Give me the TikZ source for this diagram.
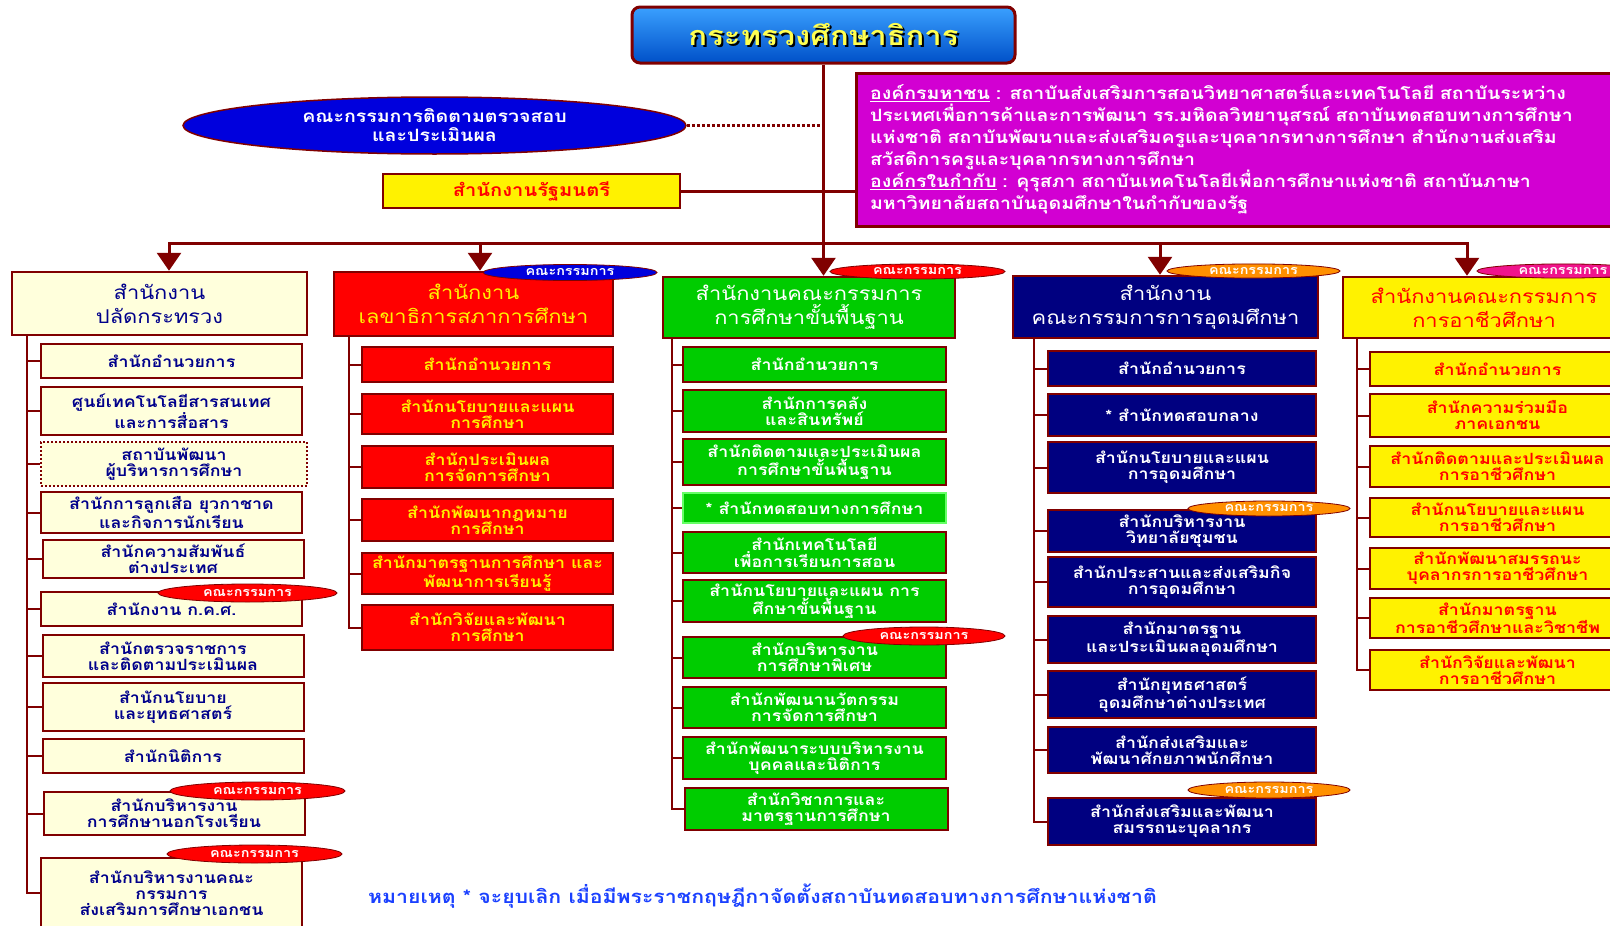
\documentclass[tikz,border=0pt]{standalone}
\usepackage{fontspec}
\setmainfont[Script=Thai, FakeStretch=1.15]{Loma}
\usetikzlibrary{arrows.meta,shapes.geometric}

\definecolor{linkred}{HTML}{800000}
\definecolor{paleyellow}{HTML}{FFFFDC}
\definecolor{opsblue}{HTML}{00008B}
\definecolor{obecgreen}{HTML}{00CC00}
\definecolor{ohecnavy}{HTML}{000080}
\definecolor{agencymag}{HTML}{D200D2}
\definecolor{monitorblue}{HTML}{0000DD}
\definecolor{titletop}{HTML}{3AA0FF}
\definecolor{titlebottom}{HTML}{0050C8}
\definecolor{titletext}{HTML}{FFFF50}
\definecolor{noteblue}{HTML}{1A40FF}
\definecolor{boardorange}{HTML}{FF9000}
\definecolor{boardpink}{HTML}{F0148C}

\begin{document}
\begin{tikzpicture}[x=1pt, y=-1pt,
    link/.style = {linkred, line width = 3pt},
    branch/.style = {linkred, line width = 2pt},
    down/.style = {link, -{Triangle[length = 18pt, width = 24pt]}},
    unit/.style = {draw = linkred, line width = 2pt, inner sep = 1pt, align = center,
                   font = \fontsize{15.5}{16}\selectfont\bfseries},
    head/.style = {unit, line width = 2.5pt, font = \fontsize{19}{24}\selectfont},
    opsbox/.style = {unit, fill = paleyellow, text = opsblue, minimum width = 261pt},
    oecbox/.style = {unit, fill = red, text = yellow, minimum width = 251pt},
    obecbox/.style = {unit, fill = obecgreen, text = white, minimum width = 263pt},
    ohecbox/.style = {unit, fill = ohecnavy, text = white, minimum width = 268pt},
    ovecbox/.style = {unit, fill = yellow, text = red, minimum width = 255pt},
    board/.style = {ellipse, draw = linkred, line width = 0.8pt, inner sep = 0pt,
                    text height = 8pt, text depth = 2pt, text = white,
                    font = \fontsize{12.5}{12}\selectfont\bfseries}]

  \useasboundingbox (0,0) rectangle (1610,926);

  % ministry and the units attached to it
  \node[draw = linkred, line width = 3pt, rounded corners = 8pt,
        top color = titletop, bottom color = titlebottom, text = titletext,
        minimum width = 383pt, minimum height = 56pt,
        font = \fontsize{27}{27}\selectfont\bfseries] (moe) at (823.5,35)
        {\makebox[0pt][l]{\raisebox{-2pt}{\hspace{2pt}\textcolor{black}{กระทรวงศึกษาธิการ}}}กระทรวงศึกษาธิการ};
  \node[ellipse, draw = linkred, line width = 1.5pt, fill = monitorblue, text = white,
        minimum width = 503pt, minimum height = 57pt, inner sep = 0pt, align = center,
        font = \fontsize{17}{19}\selectfont\bfseries] (monitor) at (434.5,125.5)
        {คณะกรรมการติดตามตรวจสอบ\\และประเมินผล};
  \node[unit, fill = yellow, text = red, minimum width = 297pt, minimum height = 34pt,
        font = \fontsize{17.5}{17}\selectfont\bfseries] (minister) at (531.5,191) {สำนักงานรัฐมนตรี};
  \node[draw = linkred, line width = 3pt, fill = agencymag, text = white,
        minimum width = 769pt, minimum height = 153pt, inner xsep = 14pt,
        text width = 741pt, align = left,
        font = \fontsize{17}{22}\selectfont\bfseries] (agencies) at (1240.5,149.5)
        {\underline{องค์กรมหาชน} : สถาบันส่งเสริมการสอนวิทยาศาสตร์และเทคโนโลยี สถาบันระหว่าง\\
         ประเทศเพื่อการค้าและการพัฒนา รร.มหิดลวิทยานุสรณ์ สถาบันทดสอบทางการศึกษา\\
         แห่งชาติ สถาบันพัฒนาและส่งเสริมครูและบุคลากรทางการศึกษา สำนักงานส่งเสริม\\
         สวัสดิการครูและบุคลากรทางการศึกษา\\
         \underline{องค์กรในกำกับ} : คุรุสภา สถาบันเทคโนโลยีเพื่อการศึกษาแห่งชาติ สถาบันภาษา\\
         มหาวิทยาลัยสถาบันอุดมศึกษาในกำกับของรัฐ};

  \coordinate (bus1) at (169,243);
  \coordinate (bus2) at (480,243);
  \coordinate (bus3) at (823.5,243);
  \coordinate (bus4) at (1160,243);
  \coordinate (bus5) at (1467,243);
  \draw[link] (moe.south) -- (bus3);
  \draw[link, dotted] (monitor.east) -- (monitor.east -| moe.south);
  \draw[link] (minister.east) -- (agencies.west |- minister.east);
  \draw[link, line cap = rect] (bus1) -- (bus5);

  % the five offices
  \node[head, fill = paleyellow, text = opsblue, minimum width = 295pt, minimum height = 63pt]
    (ops) at (159.5,303.5) {สำนักงาน\\ปลัดกระทรวง};
  \node[head, fill = red, text = yellow, minimum width = 279pt, minimum height = 64pt]
    (oec) at (473.5,304) {สำนักงาน\\เลขาธิการสภาการศึกษา};
  \node[head, fill = obecgreen, text = white, minimum width = 292pt, minimum height = 61pt]
    (obec) at (809,307.5) {สำนักงานคณะกรรมการ\\การศึกษาขั้นพื้นฐาน};
  \node[head, fill = ohecnavy, text = white, minimum width = 305pt, minimum height = 62pt]
    (ohec) at (1165.5,307) {สำนักงาน\\คณะกรรมการการอุดมศึกษา};
  \node[head, fill = yellow, text = red, minimum width = 282pt, minimum height = 61pt]
    (ovec) at (1484,307.5) {สำนักงานคณะกรรมการ\\การอาชีวศึกษา};

  \draw[down] (bus1) -- (bus1 |- ops.north);
  \draw[down] (bus2) -- (bus2 |- oec.north);
  \draw[down] (bus3) -- (bus3 |- obec.north);
  \draw[down] (bus4) -- (bus4 |- ohec.north);
  \draw[down] (bus5) -- (bus5 |- ovec.north);

  % office of the permanent secretary
  \node[opsbox, minimum height = 34pt] (ops1) at (171.5,361) {สำนักอำนวยการ};
  \node[opsbox, minimum height = 48pt] (ops2) at (171.5,411) {ศูนย์เทคโนโลยีสารสนเทศ\\และการสื่อสาร};
  \node[opsbox, dotted, minimum width = 266pt, minimum height = 44pt] (ops3) at (174,464) {สถาบันพัฒนา\\ผู้บริหารการศึกษา};
  \node[opsbox, minimum height = 41pt] (ops4) at (171.5,512.5) {สำนักการลูกเสือ ยุวกาชาด\\และกิจการนักเรียน};
  \node[opsbox, minimum height = 38pt] (ops5) at (173,559) {สำนักความสัมพันธ์\\ต่างประเทศ};
  \node[opsbox, minimum height = 34pt] (ops6) at (171.5,609) {สำนักงาน ก.ค.ศ.};
  \node[opsbox, minimum height = 42pt] (ops7) at (173,656) {สำนักตรวจราชการ\\และติดตามประเมินผล};
  \node[opsbox, minimum height = 48pt] (ops8) at (173,707) {สำนักนโยบาย\\และยุทธศาสตร์};
  \node[opsbox, minimum height = 34pt] (ops9) at (173,756) {สำนักนิติการ};
  \node[opsbox, minimum height = 43pt] (ops10) at (174,813.5) {สำนักบริหารงาน\\การศึกษานอกโรงเรียน};
  \node[opsbox, minimum height = 70pt] (ops11) at (171.5,893) {สำนักบริหารงานคณะ\\กรรมการ\\ส่งเสริมการศึกษาเอกชน};
  \coordinate (opstree) at (27,335);
  \draw[branch] (opstree) |- (ops11.west)
    (opstree |- ops1.west) -- (ops1.west) (opstree |- ops2.west) -- (ops2.west)
    (opstree |- ops3.west) -- (ops3.west) (opstree |- ops4.west) -- (ops4.west)
    (opstree |- ops5.west) -- (ops5.west) (opstree |- ops6.west) -- (ops6.west)
    (opstree |- ops7.west) -- (ops7.west) (opstree |- ops8.west) -- (ops8.west)
    (opstree |- ops9.west) -- (ops9.west) (opstree |- ops10.west) -- (ops10.west);

  % office of the education council
  \node[oecbox, minimum height = 35pt] (oec1) at (487.5,364.5) {สำนักอำนวยการ};
  \node[oecbox, minimum height = 40pt] (oec2) at (487.5,414) {สำนักนโยบายและแผน\\การศึกษา};
  \node[oecbox, minimum height = 42pt] (oec3) at (487.5,467) {สำนักประเมินผล\\การจัดการศึกษา};
  \node[oecbox, minimum height = 42pt] (oec4) at (487.5,520) {สำนักพัฒนากฎหมาย\\การศึกษา};
  \node[oecbox, minimum height = 41pt] (oec5) at (487.5,573.5) {สำนักมาตรฐานการศึกษา และ\\พัฒนาการเรียนรู้};
  \node[oecbox, minimum height = 45pt] (oec6) at (487.5,627.5) {สำนักวิจัยและพัฒนา\\การศึกษา};
  \coordinate (oectree) at (349,336);
  \draw[branch] (oectree) |- (oec6.west)
    (oectree |- oec1.west) -- (oec1.west) (oectree |- oec2.west) -- (oec2.west)
    (oectree |- oec3.west) -- (oec3.west) (oectree |- oec4.west) -- (oec4.west)
    (oectree |- oec5.west) -- (oec5.west);

  % office of the basic education commission
  \node[obecbox, minimum height = 35pt] (obec1) at (814.5,364.5) {สำนักอำนวยการ};
  \node[obecbox, minimum height = 42pt] (obec2) at (814.5,411) {สำนักการคลัง\\และสินทรัพย์};
  \node[obecbox, minimum height = 46pt] (obec3) at (814.5,462) {สำนักติดตามและประเมินผล\\การศึกษาขั้นพื้นฐาน};
  \node[obecbox, draw = green!60!white, minimum height = 30pt] (obec4) at (814.5,508) {* สำนักทดสอบทางการศึกษา};
  \node[obecbox, minimum height = 41pt] (obec5) at (814.5,552.5) {สำนักเทคโนโลยี\\เพื่อการเรียนการสอน};
  \node[obecbox, minimum height = 42pt] (obec6) at (814.5,601) {สำนักนโยบายและแผน การ\\ศึกษาขั้นพื้นฐาน};
  \node[obecbox, minimum height = 41pt] (obec7) at (814.5,657.5) {สำนักบริหารงาน\\การศึกษาพิเศษ};
  \node[obecbox, minimum height = 41pt] (obec8) at (814.5,707.5) {สำนักพัฒนานวัตกรรม\\การจัดการศึกษา};
  \node[obecbox, minimum height = 42pt] (obec9) at (814.5,758) {สำนักพัฒนาระบบบริหารงาน\\บุคคลและนิติการ};
  \node[obecbox, minimum height = 42pt] (obec10) at (816,809) {สำนักวิชาการและ\\มาตรฐานการศึกษา};
  \coordinate (obectree) at (672,338);
  \draw[branch] (obectree) |- (obec10.west)
    (obectree |- obec1.west) -- (obec1.west) (obectree |- obec2.west) -- (obec2.west)
    (obectree |- obec3.west) -- (obec3.west) (obectree |- obec4.west) -- (obec4.west)
    (obectree |- obec5.west) -- (obec5.west) (obectree |- obec6.west) -- (obec6.west)
    (obectree |- obec7.west) -- (obec7.west) (obectree |- obec8.west) -- (obec8.west)
    (obectree |- obec9.west) -- (obec9.west);

  % office of the higher education commission
  \node[ohecbox, minimum height = 35pt] (ohec1) at (1182,368.5) {สำนักอำนวยการ};
  \node[ohecbox, minimum height = 42pt] (ohec2) at (1182,415) {* สำนักทดสอบกลาง};
  \node[ohecbox, minimum height = 51pt] (ohec3) at (1182,467.5) {สำนักนโยบายและแผน\\การอุดมศึกษา};
  \node[ohecbox, minimum height = 42pt] (ohec4) at (1182,531) {สำนักบริหารงาน\\วิทยาลัยชุมชน};
  \node[ohecbox, minimum height = 50pt] (ohec5) at (1182,582) {สำนักประสานและส่งเสริมกิจ\\การอุดมศึกษา};
  \node[ohecbox, minimum height = 47pt] (ohec6) at (1182,639.5) {สำนักมาตรฐาน\\และประเมินผลอุดมศึกษา};
  \node[ohecbox, minimum height = 47pt] (ohec7) at (1182,694.5) {สำนักยุทธศาสตร์\\อุดมศึกษาต่างประเทศ};
  \node[ohecbox, minimum height = 46pt] (ohec8) at (1182,750) {สำนักส่งเสริมและ\\พัฒนาศักยภาพนักศึกษา};
  \node[ohecbox, minimum height = 47pt] (ohec9) at (1182,821.5) {สำนักส่งเสริมและพัฒนา\\สมรรถนะบุคลากร};
  \coordinate (ohectree) at (1034,338);
  \draw[branch] (ohectree) |- (ohec9.west)
    (ohectree |- ohec1.west) -- (ohec1.west) (ohectree |- ohec2.west) -- (ohec2.west)
    (ohectree |- ohec3.west) -- (ohec3.west) (ohectree |- ohec4.west) -- (ohec4.west)
    (ohectree |- ohec5.west) -- (ohec5.west) (ohectree |- ohec6.west) -- (ohec6.west)
    (ohectree |- ohec7.west) -- (ohec7.west) (ohectree |- ohec8.west) -- (ohec8.west);

  % office of the vocational education commission
  \node[ovecbox, minimum height = 34pt] (ovec1) at (1497.5,369) {สำนักอำนวยการ};
  \node[ovecbox, minimum height = 43pt] (ovec2) at (1497.5,415.5) {สำนักความร่วมมือ\\ภาคเอกชน};
  \node[ovecbox, minimum height = 41pt] (ovec3) at (1497.5,466.5) {สำนักติดตามและประเมินผล\\การอาชีวศึกษา};
  \node[ovecbox, minimum height = 39pt] (ovec4) at (1497.5,517.5) {สำนักนโยบายและแผน\\การอาชีวศึกษา};
  \node[ovecbox, minimum height = 41pt] (ovec5) at (1497.5,568.5) {สำนักพัฒนาสมรรถนะ\\บุคลากรการอาชีวศึกษา};
  \node[ovecbox, minimum height = 40pt] (ovec6) at (1497.5,618) {สำนักมาตรฐาน\\การอาชีวศึกษาและวิชาชีพ};
  \node[ovecbox, minimum height = 40pt] (ovec7) at (1497.5,670) {สำนักวิจัยและพัฒนา\\การอาชีวศึกษา};
  \coordinate (ovectree) at (1357,338);
  \draw[branch] (ovectree) |- (ovec7.west)
    (ovectree |- ovec1.west) -- (ovec1.west) (ovectree |- ovec2.west) -- (ovec2.west)
    (ovectree |- ovec3.west) -- (ovec3.west) (ovectree |- ovec4.west) -- (ovec4.west)
    (ovectree |- ovec5.west) -- (ovec5.west) (ovectree |- ovec6.west) -- (ovec6.west);

  % boards
  \node[board, fill = red, minimum width = 179pt, minimum height = 18pt] (opsboard1) at (247.5,593) {คณะกรรมการ};
  \node[board, fill = red, minimum width = 175pt, minimum height = 18pt] (opsboard2) at (257.5,791) {คณะกรรมการ};
  \node[board, fill = red, minimum width = 175pt, minimum height = 18pt] (opsboard3) at (254.5,854) {คณะกรรมการ};
  \node[board, fill = monitorblue, minimum width = 174pt, minimum height = 16pt] (oecboard) at (570,272.5) {คณะกรรมการ};
  \node[board, fill = red, minimum width = 175pt, minimum height = 15pt] (obecboard1) at (917.5,271.5) {คณะกรรมการ};
  \node[board, fill = red, minimum width = 162pt, minimum height = 18pt] (obecboard2) at (924,636) {คณะกรรมการ};
  \node[board, fill = boardorange, minimum width = 173pt, minimum height = 14pt] (ohecboard1) at (1253.5,271) {คณะกรรมการ};
  \node[board, fill = boardorange, minimum width = 162pt, minimum height = 15pt] (ohecboard2) at (1269,508.5) {คณะกรรมการ};
  \node[board, fill = boardorange, minimum width = 162pt, minimum height = 16pt] (ohecboard3) at (1269,790) {คณะกรรมการ};
  \node[board, fill = boardpink, minimum width = 172pt, minimum height = 14pt] (ovecboard) at (1563,271) {คณะกรรมการ};

  \node[anchor = west, text = noteblue, inner sep = 0pt, font = \fontsize{18.5}{18}\selectfont\bfseries]
    (note) at (368,896) {หมายเหตุ * จะยุบเลิก เมื่อมีพระราชกฤษฎีกาจัดตั้งสถาบันทดสอบทางการศึกษาแห่งชาติ};
\end{tikzpicture}
\end{document}
